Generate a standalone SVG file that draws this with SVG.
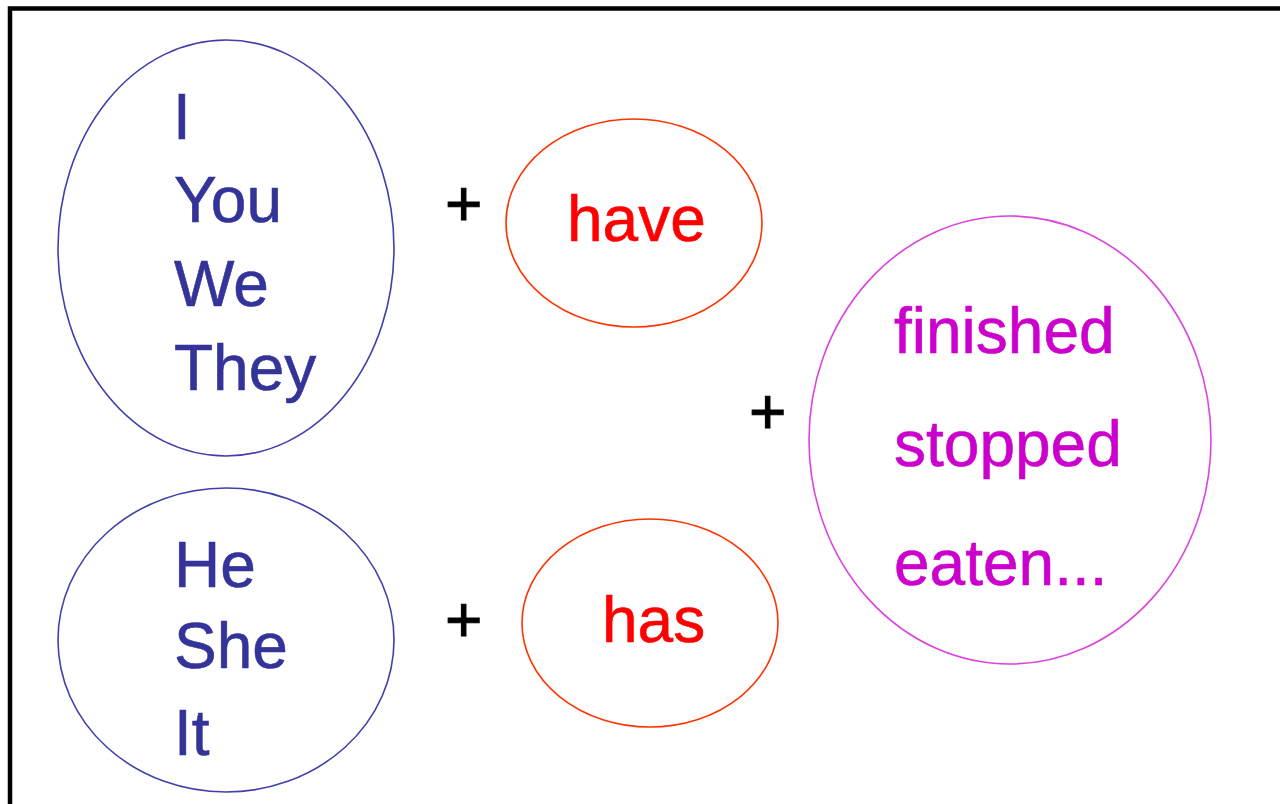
<svg xmlns="http://www.w3.org/2000/svg" width="1280" height="804" viewBox="0 0 1280 804">
<style>
text { font-family: "Liberation Sans", Arial, sans-serif; font-size: 64px; stroke-width: 0.6; }
.blue { fill: #333399; stroke: #333399; }
.red { fill: #ff0000; stroke: #ff0000; }
.pink { fill: #cc00cc; stroke: #cc00cc; }
.plus { fill: #000000; stroke: #000000; stroke-width: 1; }
.eb { fill: none; stroke: #4040aa; stroke-width: 1.6; }
.er { fill: none; stroke: #ff3300; stroke-width: 1.6; }
.ep { fill: none; stroke: #dd44dd; stroke-width: 1.6; }
</style>
<rect width="1280" height="804" fill="#ffffff"/>
<rect id="frame" x="10" y="8.5" width="1300" height="820" fill="none" stroke="#000000" stroke-width="4.5"/>
<g id="pronouns-plural">
<ellipse class="eb" cx="226" cy="248" rx="168" ry="208"/>
<text class="blue" x="173" y="139">I</text>
<text class="blue" x="174" y="222">You</text>
<text class="blue" x="174" y="306">We</text>
<text class="blue" x="174" y="390">They</text>
</g>
<g id="pronouns-singular">
<ellipse class="eb" cx="226" cy="640" rx="168" ry="152"/>
<text class="blue" x="174" y="587">He</text>
<text class="blue" x="174" y="668">She</text>
<text class="blue" x="174" y="755">It</text>
</g>
<g id="have">
<ellipse class="er" cx="634" cy="223" rx="128" ry="104"/>
<text class="red" x="567" y="241">have</text>
</g>
<g id="has">
<ellipse class="er" cx="650" cy="623" rx="128" ry="104"/>
<text class="red" x="602" y="642">has</text>
</g>
<g id="participles">
<ellipse class="ep" cx="1010" cy="440" rx="201" ry="224"/>
<text class="pink" x="894" y="353">finished</text>
<text class="pink" x="894" y="466">stopped</text>
<text class="pink" x="894" y="585">eaten...</text>
</g>
<g id="connectors">
<text class="plus" x="445" y="225.5">+</text>
<text class="plus" x="445" y="641.5">+</text>
<text class="plus" x="749" y="433.5">+</text>
</g>
</svg>
